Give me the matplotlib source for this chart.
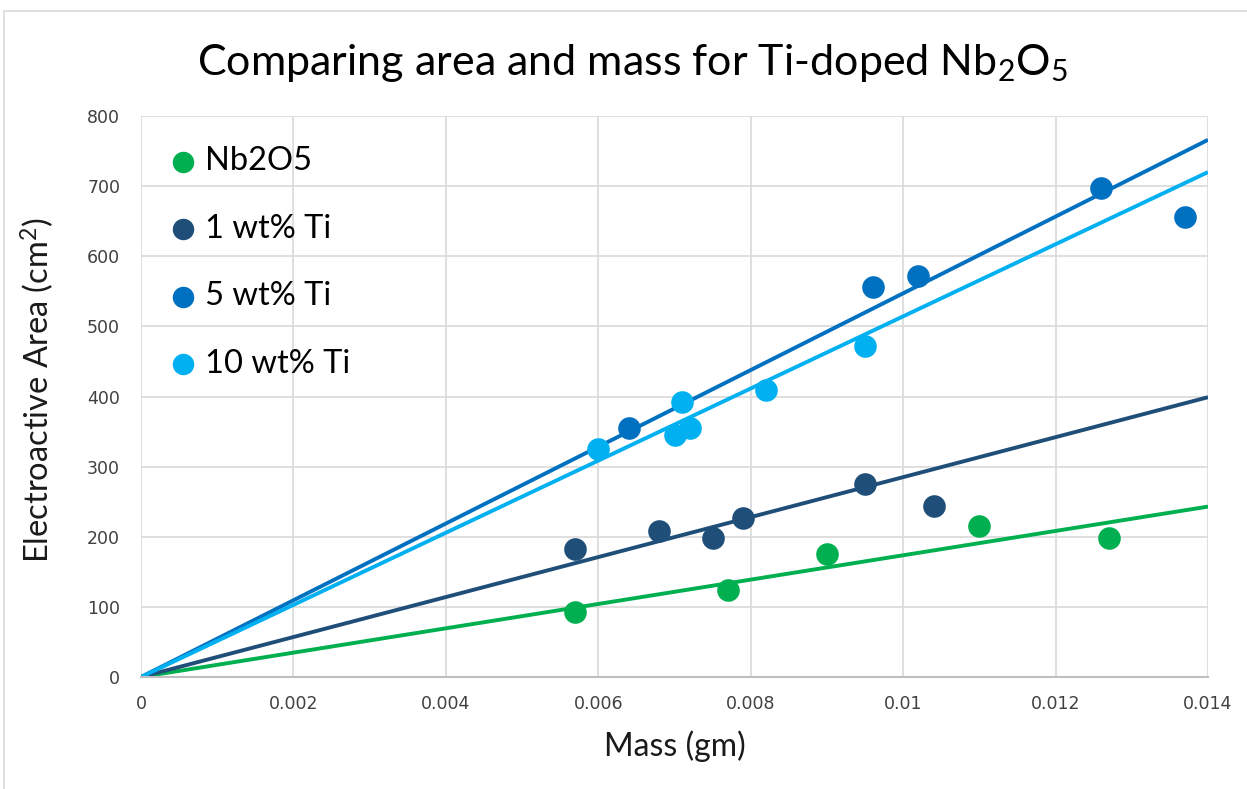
import matplotlib
matplotlib.use("Agg")
import matplotlib.pyplot as plt
from matplotlib.patches import Rectangle

plt.rcParams["mathtext.fontset"] = "custom"
plt.rcParams["mathtext.rm"] = "Lato"
plt.rcParams["mathtext.it"] = "Lato:italic"
plt.rcParams["mathtext.bf"] = "Lato:bold"
plt.rcParams["mathtext.default"] = "rm"

# ---- data ----
series_names = ["Nb2O5", "1 wt% Ti", "5 wt% Ti", "10 wt% Ti"]
series_colors = ["#00B050", "#1F4E79", "#0070C0", "#00B0F0"]

nb2o5_mass = [0.0057, 0.0077, 0.0090, 0.0110, 0.0127]
nb2o5_area = [93, 124, 175, 215, 198]

ti1_mass = [0.0057, 0.0068, 0.0075, 0.0079, 0.0095, 0.0104]
ti1_area = [183, 208, 198, 227, 275, 244]

ti5_mass = [0.0064, 0.0096, 0.0102, 0.0126, 0.0137]
ti5_area = [355, 556, 572, 697, 656]

ti10_mass = [0.0060, 0.0070, 0.0071, 0.0072, 0.0082, 0.0095]
ti10_area = [325, 345, 392, 355, 409, 472]

# trendlines (through the origin), value read at the right edge of the axis
trend_x = [0.0, 0.014]
trend_end = [243, 399, 766, 720]

x_ticks = [0, 0.002, 0.004, 0.006, 0.008, 0.01, 0.012, 0.014]
x_tick_labels = ["0", "0.002", "0.004", "0.006", "0.008", "0.01", "0.012", "0.014"]
y_ticks = [0, 100, 200, 300, 400, 500, 600, 700, 800]

masses = [nb2o5_mass, ti1_mass, ti5_mass, ti10_mass]
areas = [nb2o5_area, ti1_area, ti5_area, ti10_area]

# ---- figure ----
W, H = 1247, 789
fig = plt.figure(figsize=(W / 100, H / 100), dpi=100)
fig.patch.set_facecolor("white")

# chart-area border (cropped Excel chart)
fig.patches.append(Rectangle((4 / W, -0.05), 1.2, 1 - 11 / H + 0.05,
                             transform=fig.transFigure, fill=False,
                             edgecolor="#D9D9D9", linewidth=1.2))

ax = fig.add_axes([141 / W, 1 - 677 / H, (1208 - 141) / W, (677 - 116) / H])

for m, a, name, col, te in zip(masses, areas, series_names, series_colors, trend_end):
    ax.plot(trend_x, [0, te], color=col, linewidth=2.8, zorder=2,
            solid_capstyle="butt")
    ax.scatter(m, a, s=265, color=col, zorder=3, label=name, linewidths=0)

ax.set_xlim(0, 0.014)
ax.set_ylim(0, 800)
ax.set_xticks(x_ticks)
ax.set_xticklabels(x_tick_labels)
ax.set_yticks(y_ticks)

ax.grid(True, color="#D9D9D9", linewidth=1.2, zorder=0)
ax.set_axisbelow(True)
for s in ["top", "right", "left"]:
    ax.spines[s].set_visible(False)
ax.spines["bottom"].set_color("#BFBFBF")
ax.spines["bottom"].set_linewidth(1.5)
ax.tick_params(length=0, labelsize=12.5, colors="#404040")
ax.tick_params(axis="x", pad=13)
ax.tick_params(axis="y", pad=15)
for lab in ax.get_xticklabels() + ax.get_yticklabels():
    lab.set_family(["Liberation Sans Narrow", "DejaVu Sans"])

font = ["Lato", "DejaVu Sans"]
ax.set_xlabel("Mass (gm)", fontsize=23, family=font, color="#1a1a1a", va="center")
ax.xaxis.set_label_coords(0.5, (677 - 746) / 561)
ax.set_ylabel("Electroactive Area (cm$^2$)", fontsize=23.5, family=font,
              color="#1a1a1a", va="center")
ax.yaxis.set_label_coords((37 - 141) / 1067, (677 - 390) / 561)

fig.text(633 / W, 1 - 63 / H, "Comparing area and mass for Ti-doped Nb$_2$O$_5$",
         ha="center", va="center", fontsize=31, family=font, color="#000000")

leg = ax.legend(loc="upper left", bbox_to_anchor=(0.024, 0.946), frameon=False,
                prop={"family": font, "size": 23.5},
                labelspacing=1.15, handletextpad=0.17, handlelength=1.0,
                markerscale=0.95, borderaxespad=0.0, borderpad=0.0)

fig.savefig("out.png", dpi=100, facecolor="white")
